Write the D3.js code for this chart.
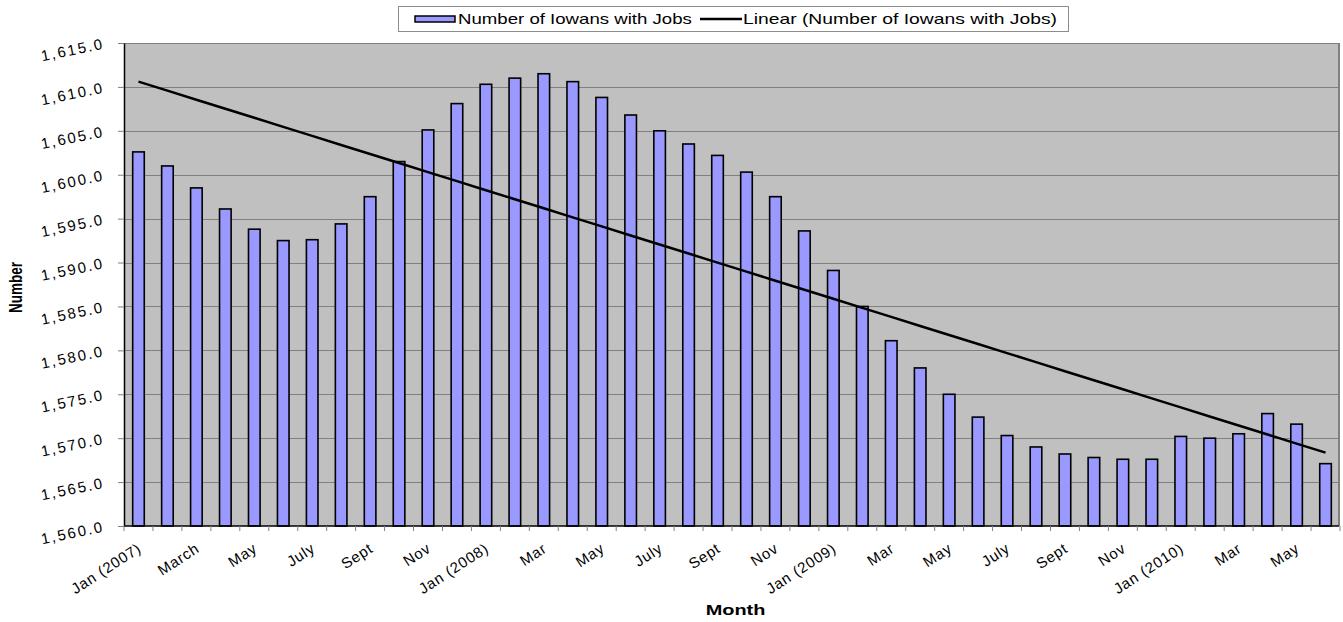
<!DOCTYPE html>
<html>
<head>
<meta charset="utf-8">
<script src="https://cdn.jsdelivr.net/npm/d3@7"></script>
<style>
  html, body { margin: 0; padding: 0; background: #fff; }
  svg { display: block; font-family: "Liberation Sans", Arial, sans-serif; }
</style>
</head>
<body>
<svg id="chart" width="1343" height="622"></svg>
<script>
// Monthly employment in Iowa (thousands), Jan 2007 - Jun 2010
const months = [
  "Jan 2007","Feb 2007","Mar 2007","Apr 2007","May 2007","Jun 2007",
  "Jul 2007","Aug 2007","Sep 2007","Oct 2007","Nov 2007","Dec 2007",
  "Jan 2008","Feb 2008","Mar 2008","Apr 2008","May 2008","Jun 2008",
  "Jul 2008","Aug 2008","Sep 2008","Oct 2008","Nov 2008","Dec 2008",
  "Jan 2009","Feb 2009","Mar 2009","Apr 2009","May 2009","Jun 2009",
  "Jul 2009","Aug 2009","Sep 2009","Oct 2009","Nov 2009","Dec 2009",
  "Jan 2010","Feb 2010","Mar 2010","Apr 2010","May 2010","Jun 2010"
];
const jobs = [
  1602.6, 1601.0, 1598.5, 1596.1, 1593.8, 1592.5,
  1592.6, 1594.4, 1597.5, 1601.5, 1605.1, 1608.1,
  1610.3, 1611.0, 1611.5, 1610.6, 1608.8, 1606.8,
  1605.0, 1603.5, 1602.2, 1600.3, 1597.5, 1593.6,
  1589.1, 1585.0, 1581.1, 1578.0, 1575.0, 1572.4,
  1570.3, 1569.0, 1568.2, 1567.8, 1567.6, 1567.6,
  1570.2, 1570.0, 1570.5, 1572.8, 1571.6, 1567.1
];
// Axis labels shown on every other month
const tickLabels = [
  "Jan (2007)","March","May","July","Sept","Nov",
  "Jan (2008)","Mar","May","July","Sept","Nov",
  "Jan (2009)","Mar","May","July","Sept","Nov",
  "Jan (2010)","Mar","May"
];
const yTicks = [1560,1565,1570,1575,1580,1585,1590,1595,1600,1605,1610,1615];
const seriesName = "Number of Iowans with Jobs";
const trendName = "Linear (Number of Iowans with Jobs)";
const xTitle = "Month";
const yTitle = "Number";

// Layout
const L = 124, R = 1339, T = 43, B = 526;
const SX = 1.33;           // horizontal stretch for upright titles and legend text
const barFill = "#9999FF", plotBg = "#C0C0C0", gridCol = "#808080";

const svg = d3.select("#chart");

const x = d3.scaleBand().domain(months).range([L, R + 1]).paddingInner(0.6).paddingOuter(0.3);
const y = d3.scaleLinear().domain([1560, 1615]).range([B, T]);
const step = x.step();

// Upright / vertical text stretched horizontally on screen
function stretched(sel, px, py, rot) {
  return sel.attr("x", 0).attr("y", 0).attr("dy", null)
    .attr("transform", `translate(${px},${py}) scale(${SX},1) rotate(${rot})`);
}
// Slanted tick text, widened through letter spacing
function slanted(sel, px, py, rot, spacing) {
  return sel.attr("x", 0).attr("y", 0).attr("dy", null)
    .attr("letter-spacing", spacing)
    .attr("transform", `translate(${px},${py}) rotate(${rot})`);
}

// Plot area
svg.append("rect").attr("x", L).attr("y", T).attr("width", R - L).attr("height", B - T)
  .attr("fill", plotBg);

// Horizontal gridlines
svg.append("g").selectAll("line").data(yTicks.filter(v => v > 1560)).join("line")
  .attr("x1", L).attr("x2", R)
  .attr("y1", d => Math.round(y(d)) + 0.5).attr("y2", d => Math.round(y(d)) + 0.5)
  .attr("stroke", gridCol).attr("stroke-width", 1);

// Right frame edge
svg.append("line").attr("x1", R).attr("x2", R).attr("y1", T).attr("y2", B)
  .attr("stroke", gridCol).attr("stroke-width", 2);

// Bars
svg.append("g").selectAll("rect").data(jobs).join("rect")
  .attr("x", (d, i) => x(months[i]))
  .attr("y", d => y(d))
  .attr("width", x.bandwidth())
  .attr("height", d => y(1560) - y(d))
  .attr("fill", barFill)
  .attr("stroke", "#000")
  .attr("stroke-width", 1.6);

// Linear trend (least squares on month index)
const idx = jobs.map((d, i) => i + 1);
const mx = d3.mean(idx), my = d3.mean(jobs);
const slope = d3.sum(idx, (t, i) => (t - mx) * (jobs[i] - my)) / d3.sum(idx, t => (t - mx) ** 2);
const intercept = my - slope * mx;
const trend = idx.map(t => intercept + slope * t);
svg.append("path")
  .datum(trend)
  .attr("d", d3.line().x((d, i) => x(months[i]) + x.bandwidth() / 2).y(d => y(d)))
  .attr("fill", "none").attr("stroke", "#000").attr("stroke-width", 2.5);

// Y axis
const yAxis = svg.append("g").attr("transform", `translate(${L},0)`)
  .call(d3.axisLeft(y).tickValues(yTicks).tickFormat(d3.format(",.1f")).tickSize(6).tickSizeOuter(0));
yAxis.select(".domain").attr("stroke", "#000").attr("stroke-width", 1.5);
yAxis.selectAll(".tick line").attr("stroke", gridCol);
yAxis.selectAll(".tick text").each(function () {
  slanted(d3.select(this), -19, 5, -11.5, 2);
}).attr("font-size", 15).attr("fill", "#000").attr("text-anchor", "end")
  .attr("font-family", "'Liberation Sans', Arial, sans-serif");

// X axis: tick marks on month boundaries
const xAxis = svg.append("g").attr("transform", `translate(0,${B})`);
xAxis.append("line").attr("x1", L).attr("x2", R).attr("y1", 0).attr("y2", 0)
  .attr("stroke", "#000").attr("stroke-width", 1.5);
xAxis.selectAll("line.tk").data(d3.range(months.length + 1)).join("line")
  .attr("class", "tk")
  .attr("x1", i => L + i * step).attr("x2", i => L + i * step)
  .attr("y1", 0).attr("y2", 5)
  .attr("stroke", gridCol);
xAxis.selectAll("text").data(tickLabels).join("text")
  .text(d => d)
  .attr("font-size", 15).attr("text-anchor", "end").attr("fill", "#000")
  .each(function (d, k) {
    const m = months[k * 2];
    slanted(d3.select(this), x(m) + x.bandwidth() / 2 + 4, 25, -33, 0.8);
  });

// Axis titles
stretched(svg.append("text").text(xTitle), (L + R) / 2 + 4, 615, 0)
  .attr("font-size", 15).attr("font-weight", "bold").attr("text-anchor", "middle");
stretched(svg.append("text").text(yTitle), 22, (T + B) / 2 + 3, -90)
  .attr("font-size", 13.5).attr("font-weight", "bold").attr("text-anchor", "middle");

// Legend
const lg = svg.append("g");
lg.append("rect").attr("x", 398.5).attr("y", 6.5).attr("width", 670).attr("height", 25)
  .attr("fill", "#fff").attr("stroke", "#8c8c8c");
lg.append("rect").attr("x", 415).attr("y", 16).attr("width", 40).attr("height", 6)
  .attr("fill", barFill).attr("stroke", "#000").attr("stroke-width", 1.5);
stretched(lg.append("text").text(seriesName), 458, 23.5, 0).attr("font-size", 14);
lg.append("line").attr("x1", 700).attr("x2", 742).attr("y1", 19).attr("y2", 19)
  .attr("stroke", "#000").attr("stroke-width", 2.5);
stretched(lg.append("text").text(trendName), 743, 23.5, 0).attr("font-size", 14)
  .attr("textLength", 314 / SX).attr("lengthAdjust", "spacingAndGlyphs");
</script>
</body>
</html>
